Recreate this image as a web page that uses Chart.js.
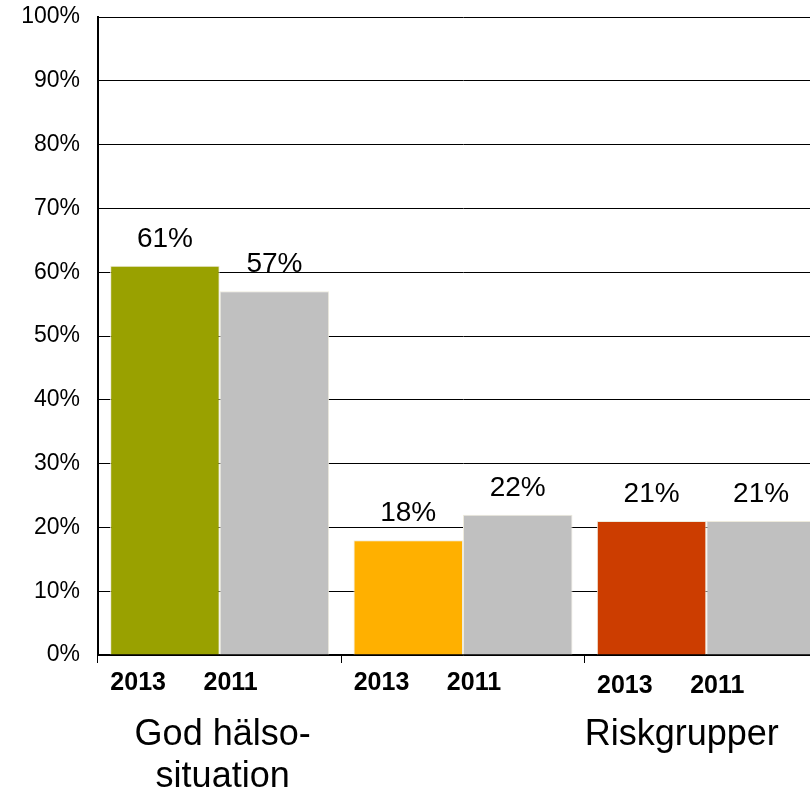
<!DOCTYPE html>
<html>
<head>
<meta charset="utf-8">
<script src="https://cdn.jsdelivr.net/npm/chart.js@4.4.1/dist/chart.umd.min.js"></script>
<style>
  html, body { margin: 0; padding: 0; background: #fff; overflow: hidden; }
  #wrap { width: 810px; height: 795px; overflow: hidden; position: relative; }
  canvas { display: block; }
</style>
</head>
<body>
<div id="wrap"><canvas id="c" width="830" height="795"></canvas></div>
<script>
const categories = [['God hälso-', 'situation'], [], ['Riskgrupper']];
const years = ['2013', '2011'];
const values2013 = [61, 18, 21];
const values2011 = [57, 22, 21];
const colors2013 = ['#99A100', '#FFB000', '#CC3D00'];
const color2011 = '#C0C0C0';
const yTicksMax = 100;
const yTicksStep = 10;

const FONT = '"Liberation Sans", Arial, sans-serif';

const labelPlugin = {
  id: 'labels',
  afterDatasetsDraw(chart) {
    const ctx = chart.ctx;
    ctx.save();
    ctx.fillStyle = '#000';
    ctx.font = '28px ' + FONT;
    ctx.textAlign = 'center';
    ctx.textBaseline = 'alphabetic';
    chart.data.datasets.forEach((ds, di) => {
      const meta = chart.getDatasetMeta(di);
      meta.data.forEach((bar, i) => {
        ctx.fillText(ds.data[i] + '%', bar.x, bar.y - 19);
      });
    });
    ctx.restore();
  },
  afterDraw(chart) {
    const ctx = chart.ctx;
    const xs = chart.scales.x;
    const catW = (xs.right - xs.left) / chart.data.labels.length;
    ctx.save();
    ctx.fillStyle = '#000';
    ctx.textBaseline = 'alphabetic';
    // year labels
    ctx.font = 'bold 25px ' + FONT;
    ctx.textAlign = 'center';
    const yearFrac = [0.165, 0.545];
    chart.data.labels.forEach((lab, i) => {
      const left = xs.getPixelForValue(i) - catW / 2;
      years.forEach((yr, k) => {
        ctx.fillText(yr, left + yearFrac[k] * catW, i === 2 ? 693 : 690);
      });
    });
    // group labels
    ctx.font = '36px ' + FONT;
    const aligns = ['center', 'center', 'left'];
    chart.data.labels.forEach((lines, i) => {
      const center = xs.getPixelForValue(i);
      const left = center - catW / 2;
      ctx.textAlign = aligns[i];
      const x = aligns[i] === 'left' ? left : center + 3;
      lines.forEach((ln, j) => {
        ctx.fillText(ln, x, 745 + j * 42);
      });
    });
    ctx.restore();
  }
};

new Chart(document.getElementById('c'), {
  type: 'bar',
  data: {
    labels: categories,
    datasets: [
      {
        label: years[0],
        data: values2013,
        backgroundColor: colors2013,
        borderColor: '#EEEBDD',
        borderWidth: 1
      },
      {
        label: years[1],
        data: values2011,
        backgroundColor: color2011,
        borderColor: '#EEEBDD',
        borderWidth: 1
      }
    ]
  },
  options: {
    responsive: false,
    animation: false,
    devicePixelRatio: 1,
    layout: { padding: { top: 17, right: 2, left: 0, bottom: 0 } },
    plugins: { legend: { display: false }, tooltip: { enabled: false } },
    datasets: { bar: { categoryPercentage: 0.9, barPercentage: 1 } },
    scales: {
      x: {
        afterFit(scale) { scale.height = 140; scale.paddingLeft = 0; scale.paddingRight = 0; },
        ticks: { display: false },
        grid: {
          display: true,
          offset: true,
          drawOnChartArea: false,
          drawTicks: true,
          tickLength: 8,
          color: '#000',
          lineWidth: 1
        },
        border: { display: true, color: '#000', width: 1.5 }
      },
      y: {
        min: 0,
        max: yTicksMax,
        afterFit(scale) { scale.width = 98; scale.paddingTop = 0; scale.paddingBottom = 0; },
        ticks: {
          stepSize: yTicksStep,
          padding: 18,
          color: '#000',
          font: { family: FONT, size: 23 },
          callback: v => v + '%'
        },
        grid: { color: '#000', lineWidth: 1, drawTicks: false },
        border: { display: true, color: '#000', width: 2 }
      }
    }
  },
  plugins: [labelPlugin]
});
</script>
</body>
</html>
